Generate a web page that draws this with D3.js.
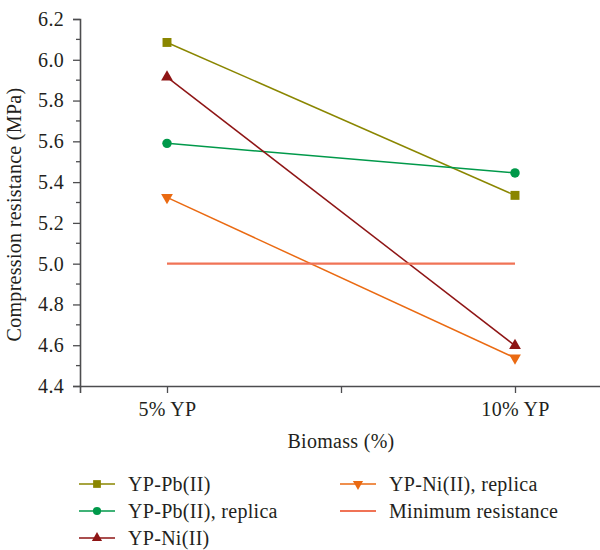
<!DOCTYPE html>
<html>
<head>
<meta charset="utf-8">
<script src="https://cdn.jsdelivr.net/npm/d3@7"></script>
<style>
  html, body { margin: 0; padding: 0; background: #fff; }
  svg text { font-family: "Liberation Serif", "Times New Roman", serif; fill: #231f20; letter-spacing: 0.3px; }
</style>
</head>
<body>
<svg id="chart" width="600" height="550"></svg>
<script>
// Biomass content categories (x positions 1 and 2)
const categories = ["5% YP", "10% YP"];
const categoryPos = [1, 2];

// Compression resistance (MPa) per series
const pbValues = [6.085, 5.335];
const pbReplicaValues = [5.59, 5.445];
const niValues = [5.915, 4.598];
const niReplicaValues = [5.325, 4.538];
const minimumValues = [5.0, 5.0];

const yTicks = [4.4, 4.6, 4.8, 5.0, 5.2, 5.4, 5.6, 5.8, 6.0, 6.2];

const series = [
  { name: "YP-Pb(II)", values: pbValues, color: "#8a8600", symbol: d3.symbolSquare, size: 80, rot: 0 },
  { name: "YP-Pb(II), replica", values: pbReplicaValues, color: "#00994a", symbol: d3.symbolCircle, size: 70, rot: 0 },
  { name: "YP-Ni(II)", values: niValues, color: "#8e1515", symbol: d3.symbolTriangle, size: 60, rot: 0 },
  { name: "YP-Ni(II), replica", values: niReplicaValues, color: "#ea6a12", symbol: d3.symbolTriangle, size: 60, rot: 180 },
  { name: "Minimum resistance", values: minimumValues, color: "#f07356", symbol: null, width: 2.2 }
];

const svg = d3.select("#chart");
const plotLeft = 80, plotRight = 602, plotTop = 19, plotBottom = 386;
const fontSize = 20;
const serif = "'Liberation Serif', 'Times New Roman', serif";

const x = d3.scaleLinear().domain([0.75, 2.25]).range([plotLeft, plotRight]);
const y = d3.scaleLinear().domain([4.4, 6.2]).range([plotBottom, plotTop]);

const axisColor = "#4d4d4f";

// Y axis: major ticks every 0.2, minor ticks halfway
const yAxis = svg.append("g").attr("transform", `translate(${plotLeft},0)`)
  .call(d3.axisLeft(y).tickValues(yTicks).tickSize(7).tickPadding(9).tickFormat(d3.format(".1f")));
const minorY = d3.range(0, yTicks.length - 1).map(i => (yTicks[i] + yTicks[i + 1]) / 2);
yAxis.selectAll(".minor").data(minorY).enter().append("line")
  .attr("class", "minor")
  .attr("x1", -4).attr("x2", 0)
  .attr("y1", d => y(d)).attr("y2", d => y(d));

// X axis with a blank mid tick
const xAxis = svg.append("g").attr("transform", `translate(0,${plotBottom})`)
  .call(d3.axisBottom(x).tickValues([1, 1.5, 2]).tickSize(7).tickPadding(9)
    .tickFormat(d => { const i = categoryPos.indexOf(d); return i >= 0 ? categories[i] : ""; }));

[yAxis, xAxis].forEach(g => {
  g.attr("font-family", serif).attr("font-size", fontSize);
  g.select(".domain").attr("stroke", axisColor).attr("stroke-width", 1.6);
  g.selectAll("line").attr("stroke", axisColor).attr("stroke-width", 1.3);
  g.selectAll("text").attr("fill", "#231f20");
});

// Axis titles
svg.append("text")
  .attr("x", x(1.5)).attr("y", 448)
  .attr("text-anchor", "middle").attr("font-size", fontSize)
  .text("Biomass (%)");
svg.append("text")
  .attr("transform", `translate(21,${(plotTop + plotBottom) / 2 + 12}) rotate(-90)`)
  .attr("text-anchor", "middle").attr("font-size", fontSize)
  .text("Compression resistance (MPa)");

// Lines and markers
const line = d3.line().x((d, i) => x(categoryPos[i])).y(d => y(d));
const plot = svg.append("g");
series.forEach(s => {
  plot.append("path")
    .datum(s.values)
    .attr("fill", "none")
    .attr("stroke", s.color)
    .attr("stroke-width", s.width || 1.5)
    .attr("d", line);
});
series.forEach(s => {
  if (!s.symbol) return;
  plot.selectAll(null).data(s.values).enter().append("path")
    .attr("d", d3.symbol().type(s.symbol).size(s.size))
    .attr("fill", s.color)
    .attr("transform", (d, i) => `translate(${x(categoryPos[i])},${y(d)}) rotate(${s.rot})`);
});

// Legend: two columns
const legendPos = [
  [79, 484], [79, 511], [79, 538],
  [340, 484], [340, 511]
];
series.forEach((s, i) => {
  const [lx, ly] = legendPos[i];
  const g = svg.append("g").attr("transform", `translate(${lx},${ly})`);
  g.append("line").attr("x1", 0).attr("x2", 36).attr("y1", 0).attr("y2", 0)
    .attr("stroke", s.color).attr("stroke-width", s.width || 1.5);
  if (s.symbol) {
    g.append("path")
      .attr("d", d3.symbol().type(s.symbol).size(s.size * 0.75))
      .attr("fill", s.color)
      .attr("transform", `translate(18,0) rotate(${s.rot})`);
  }
  g.append("text").attr("x", 49).attr("y", 0).attr("dy", "0.35em")
    .attr("font-size", fontSize).text(s.name);
});
</script>
</body>
</html>
